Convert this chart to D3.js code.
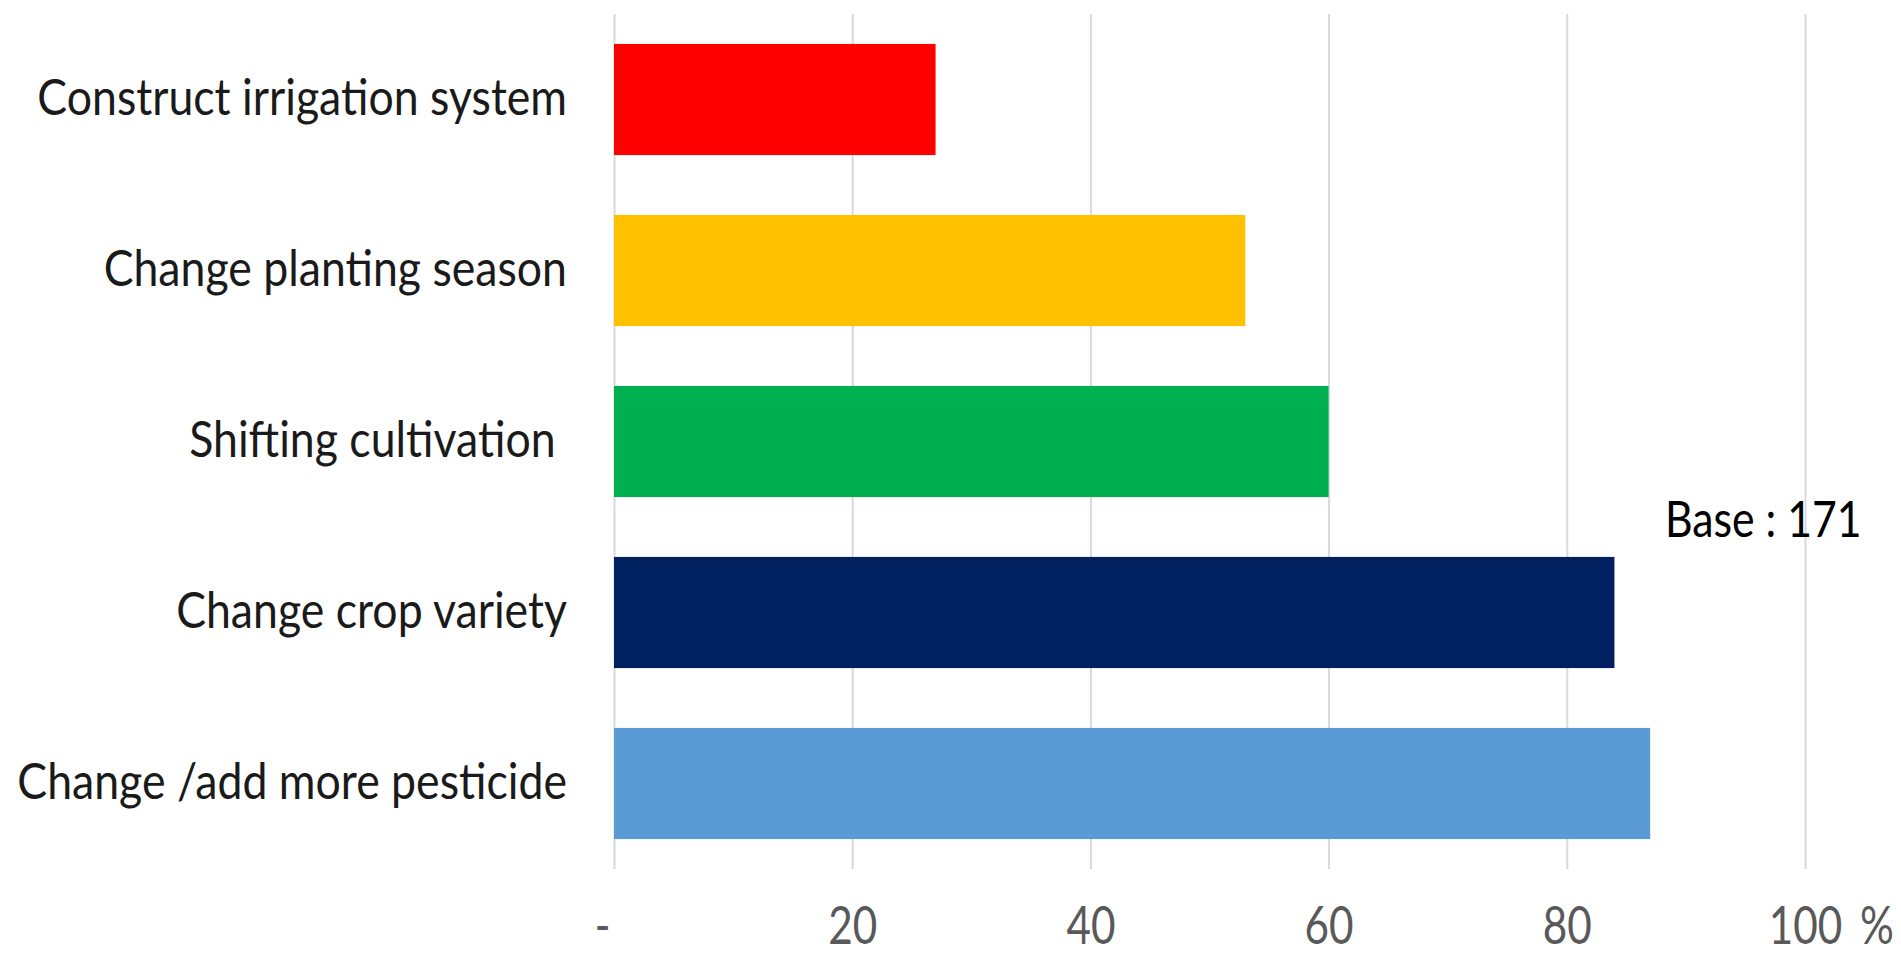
<html>
<script src="https://d3js.org/d3.v7.min.js"></script>
<style>
    body { margin: 0; background: #fff; }
    text { font-family: Lato, "Open Sans", sans-serif; }
</style>
<body>
    <svg id="chart" width="1901" height="956"></svg>
    <script>
        // categories, top to bottom
        var categories = [
            "Construct irrigation system",
            "Change planting season",
            "Shifting cultivation ",
            "Change crop variety",
            "Change /add more pesticide"
        ];
        var values = [27, 53, 60, 84, 87];
        var colors = ["#ff0000", "#ffc000", "#00b050", "#002060", "#5b9bd5"];
        var tickValues = [0, 20, 40, 60, 80, 100];
        var tickLabels = ["-", "20", "40", "60", "80", "100"];
        var note = "Base : 171";

        var svg = d3.select("#chart");
        var plotTop = 14, plotBottom = 869;

        var xs = d3.scaleLinear().domain([0, 100]).range([614, 1805]);
        var ys = d3.scaleBand().domain(d3.range(categories.length))
            .range([plotTop, plotBottom]).paddingInner(0.35).paddingOuter(0.175);

        // gridlines + tick labels
        var ax = svg.append("g")
            .attr("transform", "translate(0," + plotBottom + ")")
            .call(d3.axisBottom(xs).tickValues(tickValues)
                .tickSize(-(plotBottom - plotTop))
                .tickFormat(function (d, i) { return tickLabels[i]; }));
        ax.select(".domain").remove();
        ax.selectAll(".tick line").attr("stroke", "#d9d9d9").attr("stroke-width", 2);
        ax.selectAll(".tick text")
            .attr("fill", "#595959")
            .attr("font-size", 48)
            .attr("font-family", "Lato, sans-serif")
            .attr("y", 0).attr("dy", 0)
            .attr("transform", function (d) {
                var dx = d === 0 ? -12 : 0;
                return "translate(" + dx + ",75) scale(0.88,1.08)";
            });

        // the % sign sits after the last tick
        svg.append("text")
            .attr("transform", "translate(" + (xs(100) + 55) + ",944) scale(0.88,1.08)")
            .attr("fill", "#595959")
            .attr("font-size", 48)
            .text("%");

        // bars
        svg.append("g").selectAll("rect").data(values).enter().append("rect")
            .attr("x", xs(0))
            .attr("y", function (d, i) { return ys(i); })
            .attr("width", function (d) { return xs(d) - xs(0); })
            .attr("height", ys.bandwidth())
            .attr("fill", function (d, i) { return colors[i]; });

        // category labels
        svg.append("g").selectAll("text").data(categories).enter().append("text")
            .attr("transform", function (d, i) {
                return "translate(567," + (ys(i) + ys.bandwidth() / 2 + 15) + ") scale(0.97,1.08)";
            })
            .attr("text-anchor", "end")
            .attr("fill", "#1a1a1a")
            .attr("font-size", 46)
            .style("white-space", "pre")
            .text(function (d) { return d; });

        svg.append("text")
            .attr("transform", "translate(1665,537) scale(0.93,1.08)")
            .attr("fill", "#000")
            .attr("font-size", 46)
            .text(note);
    </script>
</body>
</html>
